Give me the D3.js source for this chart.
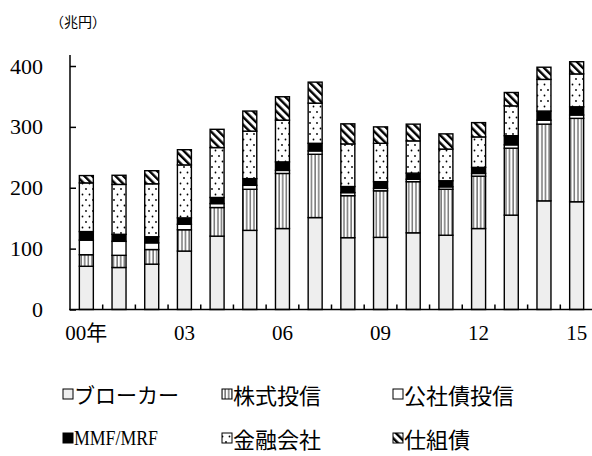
<!DOCTYPE html>
<html><head><meta charset="utf-8">
<script src="https://cdn.jsdelivr.net/npm/d3@7"></script>
<style>body{margin:0;background:#fff}</style>
</head><body>
<svg id="c" width="592" height="456"></svg>
<script>
const years = ["00","01","02","03","04","05","06","07","08","09","10","11","12","13","14","15"];
const tickLabels = ["00年","03","06","09","12","15"];
const yTicks = [0,100,200,300,400];
const seriesNames = ["ブローカー","株式投信","公社債投信","MMF/MRF","金融会社","仕組債"];
const broker    = [71,69,74.5,96,120.5,130,133,151,118,118.5,126,122,133,155,178.5,177];
const stockFund = [19,20,24,35,47,67.5,90.5,104,69,76.5,84,75.5,86,110,126,137];
const bondFund  = [24,23,11,9,6.5,6.5,5,5.5,5,4,4,4,4.5,5.5,6.5,5.5];
const mmf       = [14,11.5,10,10.5,10,11,14,12.5,10,11,10,10,10,15,15,13.5];
const finance   = [80,82,87,87,82,78,68.5,66,70,63,53,52,50,49,52,54];
const structured= [12,15,21.5,25,30,33,38.5,34.5,33,27,27.5,25,23.5,22,20,20];

const series = [broker, stockFund, bondFund, mmf, finance, structured];
const fills = ["#eeeeee","url(#pStock)","#ffffff","#000000","url(#pDots)","url(#pHatch)"];

const svg = d3.select("#c");
const defs = svg.append("defs");
const ps = defs.append("pattern").attr("id","pStock").attr("patternUnits","userSpaceOnUse")
  .attr("width",3.6).attr("height",4);
ps.append("rect").attr("width",3.6).attr("height",4).attr("fill","#fff");
ps.append("rect").attr("x",1.4).attr("width",1).attr("height",4).attr("fill","#333");
const pd = defs.append("pattern").attr("id","pDots").attr("patternUnits","userSpaceOnUse")
  .attr("width",7).attr("height",11);
pd.append("rect").attr("width",7).attr("height",11).attr("fill","#fff");
pd.append("circle").attr("cx",2).attr("cy",2).attr("r",0.9).attr("fill","#000");
pd.append("circle").attr("cx",5.5).attr("cy",7.5).attr("r",0.9).attr("fill","#000");
const ph = defs.append("pattern").attr("id","pHatch").attr("patternUnits","userSpaceOnUse")
  .attr("width",5.5).attr("height",5.5).attr("patternTransform","rotate(-45)");
ph.append("rect").attr("width",5.5).attr("height",5.5).attr("fill","#fff");
ph.append("rect").attr("width",2.4).attr("height",5.5).attr("fill","#000");

const x = d3.scaleBand().domain(years).range([70,593]).paddingInner(0.572).paddingOuter(0.286);
const y = d3.scaleLinear().domain([0,400]).range([309.5,66]);

const rows = years.map((yr,i)=>{const o={year:yr}; seriesNames.forEach((s,k)=>o[s]=series[k][i]); return o;});
const stack = d3.stack().keys(seriesNames)(rows);

const g = svg.append("g");
stack.forEach((layer,k)=>{
  g.selectAll(null).data(layer).enter().append("rect")
    .attr("x",d=>x(d.data.year)).attr("width",x.bandwidth())
    .attr("y",d=>y(d[1])).attr("height",d=>y(d[0])-y(d[1]))
    .attr("fill",fills[k]).attr("stroke","#000").attr("stroke-width",1.4);
});

const yAxis = d3.axisLeft(y).tickValues(yTicks).tickSizeInner(-6).tickSizeOuter(0).tickPadding(27);
const ya = svg.append("g").attr("transform","translate(70,0)").call(yAxis);
ya.select(".domain").remove();
ya.selectAll(".tick line").attr("stroke","#000").attr("stroke-width",1.5);
ya.selectAll("text").attr("font-family","Liberation Serif").attr("font-size",22).attr("fill","#000");
svg.append("line").attr("x1",70).attr("x2",70).attr("y1",y(418)).attr("y2",y(0)+0.75)
  .attr("stroke","#000").attr("stroke-width",1.5);

svg.append("line").attr("x1",69.25).attr("x2",592).attr("y1",y(0)).attr("y2",y(0))
  .attr("stroke","#000").attr("stroke-width",1.5);
svg.selectAll(null).data(years).enter().append("line")
  .attr("x1",(d,i)=>x.range()[0]+x.step()*(i+1)).attr("x2",(d,i)=>x.range()[0]+x.step()*(i+1))
  .attr("y1",y(0)).attr("y2",y(0)-5).attr("stroke","#000").attr("stroke-width",1.5);
const labelYears = ["00","03","06","09","12","15"];
svg.selectAll(null).data(labelYears).enter().append("text")
  .attr("x",d=>x(d)+x.bandwidth()/2).attr("y",340)
  .attr("text-anchor","middle").attr("font-family","Liberation Serif, Noto Sans CJK JP").attr("font-size",21)
  .text((d,i)=>tickLabels[i]);

svg.append("text").attr("x",50).attr("y",27).attr("font-family","Noto Sans CJK JP").attr("font-size",14)
  .text("（兆円）");

const legPos = [[63,394],[222,394],[393,394],[63,438],[222,438],[393,438]];
seriesNames.forEach((s,k)=>{
  const [lx,ly]=legPos[k];
  svg.append("rect").attr("x",lx).attr("y",ly-5).attr("width",10).attr("height",10)
    .attr("fill",fills[k]).attr("stroke","#000").attr("stroke-width",1);
  const t = svg.append("text").attr("x",lx+11).attr("y",ly).attr("dominant-baseline","central")
    .attr("font-family", s==="MMF/MRF" ? "Liberation Serif" : "Noto Sans CJK JP")
    .attr("font-size",s==="MMF/MRF" ? 21 : (k===0 ? 21 : 22)).text(s);
  if (s==="MMF/MRF") t.attr("textLength",84).attr("lengthAdjust","spacingAndGlyphs");
});
</script>
</body></html>
